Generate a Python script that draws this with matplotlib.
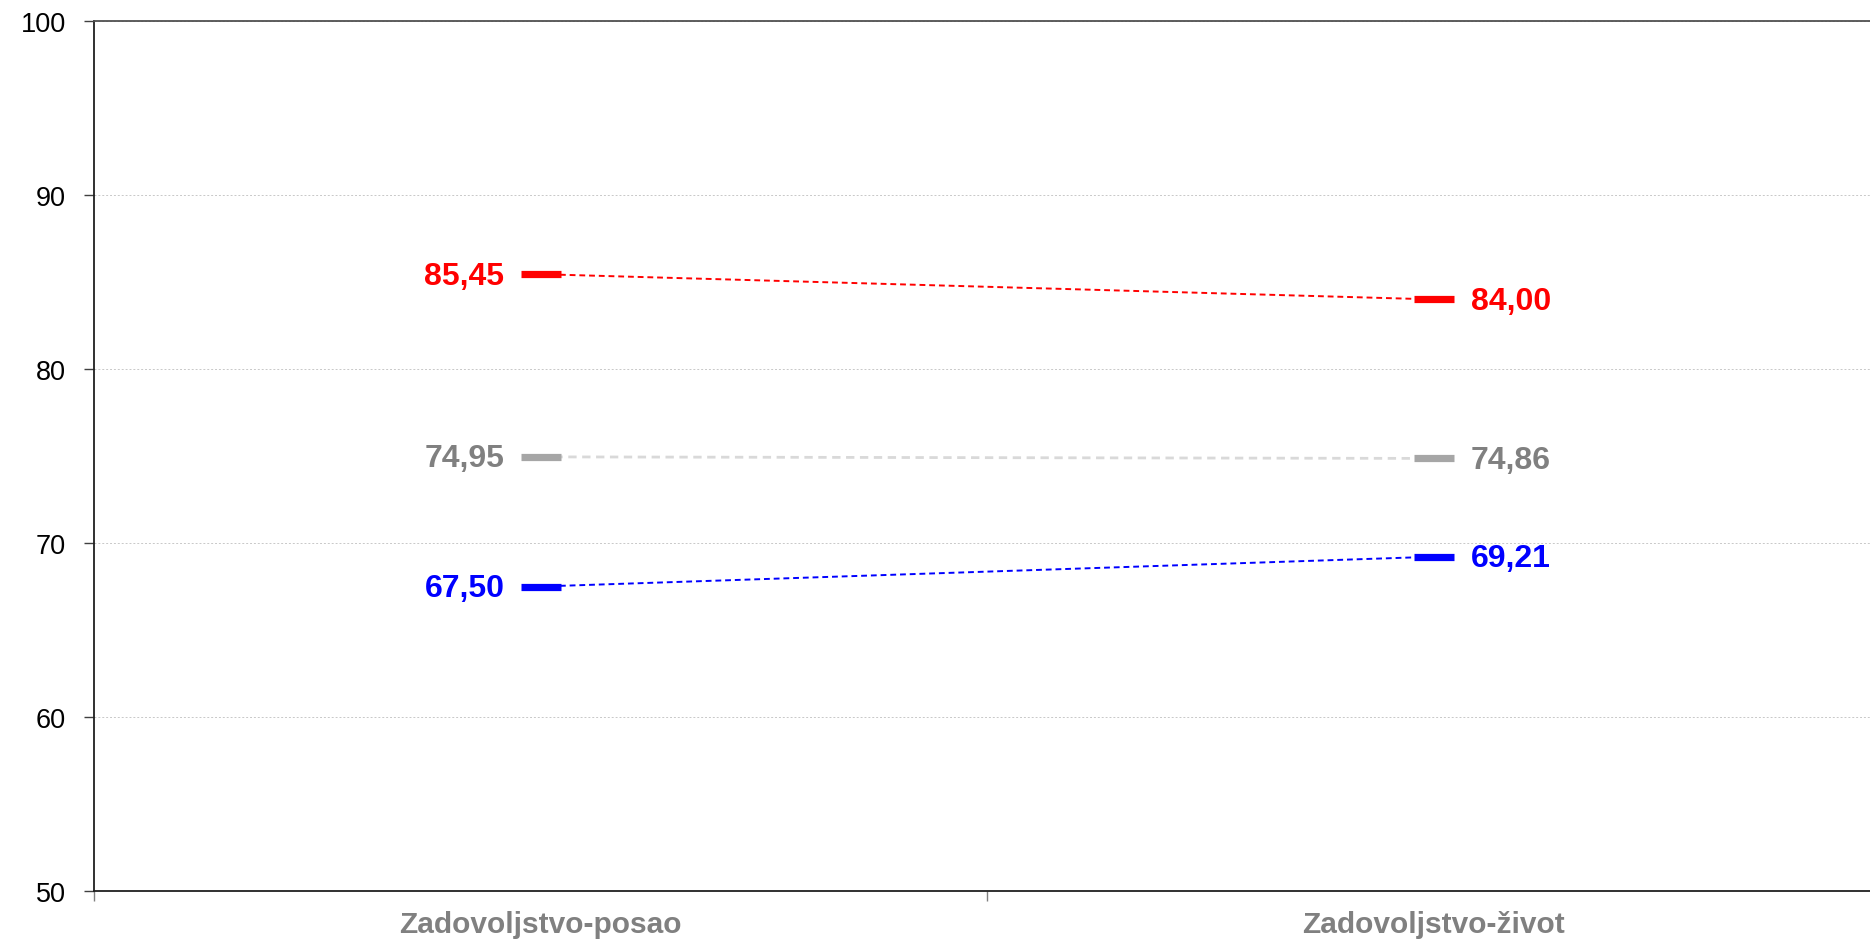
import matplotlib
matplotlib.use("Agg")
import matplotlib.pyplot as plt

plt.rcParams['font.family'] = ['Liberation Sans', 'DejaVu Sans']

categories = ["Zadovoljstvo-posao", "Zadovoljstvo-život"]
red_vals = [85.45, 84.00]
gray_vals = [74.95, 74.86]
blue_vals = [67.50, 69.21]
yticks = [50, 60, 70, 80, 90, 100]

series = [
    (red_vals, "#FF0000", "#FF0000", "#FF0000", 1.4),
    (gray_vals, "#A6A6A6", "#D9D9D9", "#808080", 2.0),
    (blue_vals, "#0000FF", "#0000FF", "#0000FF", 1.4),
]

W, H = 1870, 945
fig = plt.figure(figsize=(W / 100, H / 100), dpi=100)
ax = fig.add_axes([94 / W, (H - 892) / H, (1880 - 94) / W, (892 - 22) / H])

x = list(range(len(categories)))
for vals, mcol, lcol, tcol, lw in series:
    ax.plot(x, vals, linestyle=(0, (3, 2)), color=lcol, linewidth=lw, zorder=2)
    ax.plot(x, vals, linestyle='none', marker='_', markersize=29,
            markeredgewidth=5.2, color=mcol, zorder=3)
    ax.annotate(f"{vals[0]:.2f}".replace('.', ','), (x[0], vals[0]),
                xytext=(-26, -1), textcoords='offset points', ha='right',
                va='center', fontsize=23, fontweight='bold', color=tcol)
    ax.annotate(f"{vals[1]:.2f}".replace('.', ','), (x[1], vals[1]),
                xytext=(27, -1), textcoords='offset points', ha='left',
                va='center', fontsize=23, fontweight='bold', color=tcol)

ax.set_xlim(-0.5, 1.5)
ax.set_ylim(50, 100)
ax.set_yticks(yticks)
ax.set_yticklabels([str(t) for t in yticks], fontsize=19.5, color='black')
ax.tick_params(axis='y', length=7, width=1, color='#404040', pad=13)

ax.set_xticks(x)
ax.set_xticklabels(categories, fontsize=21.5, fontweight='bold', color='#808080')
ax.tick_params(axis='x', which='major', length=0, pad=14)
ax.set_xticks([-0.5, 0.5, 1.5], minor=True)
ax.tick_params(axis='x', which='minor', length=7, width=1, color='#808080')

ax.grid(axis='y', color='#C8C8C8', linestyle=(0, (2, 2)), linewidth=0.7, zorder=0)
ax.set_axisbelow(True)

for s in ['left', 'bottom']:
    ax.spines[s].set_color('#202020')
    ax.spines[s].set_linewidth(1.3)
ax.spines['top'].set_color('#505050')
ax.spines['top'].set_linewidth(1.3)
ax.spines['right'].set_visible(False)

fig.savefig("out.png", dpi=100, facecolor='white')
